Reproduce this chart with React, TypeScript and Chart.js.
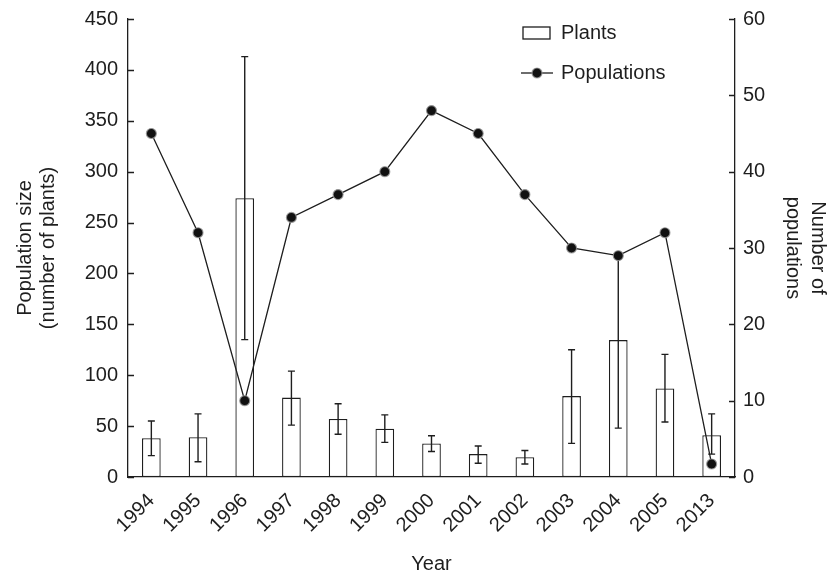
import React, { useEffect, useRef } from 'react';
import { Chart, registerables } from 'chart.js';

Chart.register(...registerables);

const years = ['1994', '1995', '1996', '1997', '1998', '1999', '2000', '2001', '2002', '2003', '2004', '2005', '2013'];
const plants = [38, 39, 274, 78, 57, 47.5, 33, 22.5, 19.5, 79.5, 134.5, 87, 41];
const plantsErrHigh = [55, 62, 413, 104, 72, 61, 40.5, 30.5, 26, 125, 217, 120.5, 62];
const plantsErrLow = [21, 15, 135, 51, 42, 34, 25, 13.5, 12.8, 33, 48, 54, 22.5];
const populations = [45, 32, 10, 34, 37, 40, 48, 45, 37, 30, 29, 32, 1.7];
const leftTicks = { min: 0, max: 450, step: 50 };
const rightTicks = { min: 0, max: 60, step: 10 };

const FONT = '"Liberation Sans", Arial, Helvetica, sans-serif';
const INK = '#1e1e1e';
const FS = 20;

const errorBarPlugin = {
  id: 'errorBars',
  afterDatasetDraw(chart: any, args: any) {
    if (args.index !== 0) return;
    const { ctx } = chart;
    const x = chart.scales.x;
    const y = chart.scales.y;
    ctx.save();
    ctx.strokeStyle = INK;
    ctx.lineWidth = 1.4;
    for (let i = 0; i < years.length; i++) {
      const cx = x.getPixelForValue(i);
      const yt = y.getPixelForValue(plantsErrHigh[i]);
      const yb = y.getPixelForValue(plantsErrLow[i]);
      const cap = 3.5;
      ctx.beginPath();
      ctx.moveTo(cx, yt);
      ctx.lineTo(cx, yb);
      ctx.moveTo(cx - cap, yt);
      ctx.lineTo(cx + cap, yt);
      ctx.moveTo(cx - cap, yb);
      ctx.lineTo(cx + cap, yb);
      ctx.stroke();
    }
    ctx.restore();
  },
};

const innerTicksPlugin = {
  id: 'innerTicks',
  afterDraw(chart: any) {
    const { ctx } = chart;
    const ly = chart.scales.y;
    const ry = chart.scales.y1;
    ctx.save();
    ctx.strokeStyle = INK;
    ctx.lineWidth = 1.3;
    ctx.beginPath();
    for (const t of ly.ticks) {
      const py = Math.round(ly.getPixelForValue(t.value)) + 0.5;
      ctx.moveTo(ly.right, py);
      ctx.lineTo(ly.right + 6, py);
    }
    for (const t of ry.ticks) {
      const py = Math.round(ry.getPixelForValue(t.value)) + 0.5;
      ctx.moveTo(ry.left, py);
      ctx.lineTo(ry.left - 6, py);
    }
    ctx.stroke();
    ctx.restore();
  },
};

const decorPlugin = {
  id: 'decor',
  afterDraw(chart: any) {
    const { ctx, chartArea } = chart;
    const midY = (chartArea.top + chartArea.bottom) / 2;
    ctx.save();
    ctx.fillStyle = INK;
    ctx.font = `${FS}px ${FONT}`;
    ctx.textAlign = 'center';
    ctx.textBaseline = 'middle';
    // left axis title
    ctx.save();
    ctx.translate(25, midY);
    ctx.rotate(-Math.PI / 2);
    ctx.fillText('Population size', 0, 0);
    ctx.fillText('(number of plants)', 0, 23);
    ctx.restore();
    // right axis title
    ctx.save();
    ctx.translate(818, midY);
    ctx.rotate(Math.PI / 2);
    ctx.fillText('Number of', 0, 0);
    ctx.fillText('populations', 0, 25);
    ctx.restore();
    // legend
    ctx.textAlign = 'left';
    ctx.strokeStyle = INK;
    ctx.lineWidth = 1.3;
    ctx.fillStyle = '#fff';
    ctx.fillRect(523, 27, 27, 12);
    ctx.strokeRect(523, 27, 27, 12);
    ctx.fillStyle = INK;
    ctx.fillText('Plants', 561, 33);
    ctx.beginPath();
    ctx.moveTo(521, 73);
    ctx.lineTo(553, 73);
    ctx.stroke();
    ctx.beginPath();
    ctx.arc(537, 73, 5, 0, Math.PI * 2);
    ctx.fillStyle = '#111';
    ctx.fill();
    ctx.strokeStyle = 'rgba(150,150,150,0.8)';
    ctx.lineWidth = 1.2;
    ctx.stroke();
    ctx.fillStyle = INK;
    ctx.fillText('Populations', 561, 73);
    ctx.restore();
  },
};

export default function App() {
  const ref = useRef<HTMLCanvasElement | null>(null);
  useEffect(() => {
    if (!ref.current) return;
    const chart = new Chart(ref.current, {
      type: 'bar',
      data: {
        labels: years,
        datasets: [
          {
            type: 'bar',
            label: 'Plants',
            data: plants,
            yAxisID: 'y',
            backgroundColor: '#fff',
            borderColor: INK,
            borderWidth: 1.3,
            borderSkipped: false,
            barPercentage: 0.4,
            categoryPercentage: 1,
            order: 1,
          },
          {
            type: 'line',
            label: 'Populations',
            data: populations,
            yAxisID: 'y1',
            borderColor: INK,
            borderWidth: 1.3,
            pointRadius: 5,
            pointBackgroundColor: '#111',
            pointBorderColor: 'rgba(150,150,150,0.8)',
            pointBorderWidth: 1.2,
            tension: 0,
            order: 0,
          },
        ],
      },
      options: {
        responsive: false,
        animation: false,
        layout: { padding: { top: 19, left: 0, right: 0, bottom: 0 } },
        plugins: { legend: { display: false }, tooltip: { enabled: false } },
        scales: {
          x: {
            offset: true,
            grid: { display: false },
            border: { display: true, color: INK, width: 1.3 },
            ticks: {
              color: INK,
              font: { family: FONT, size: FS },
              maxRotation: 45,
              minRotation: 45,
              padding: 4,
            },
            title: {
              display: true,
              text: 'Year',
              color: INK,
              font: { family: FONT, size: FS },
              padding: { top: 0, bottom: 2 },
            },
            afterFit: (s: any) => {
              s.height = 101;
            },
          },
          y: {
            position: 'left',
            min: leftTicks.min,
            max: leftTicks.max,
            grid: { display: false, drawTicks: false },
            border: { display: true, color: INK, width: 1.3 },
            ticks: {
              stepSize: leftTicks.step,
              color: INK,
              font: { family: FONT, size: FS, lineHeight: 0.9 },
              padding: 10,
            },
            afterFit: (s: any) => {
              s.width = 128;
            },
          },
          y1: {
            position: 'right',
            min: rightTicks.min,
            max: rightTicks.max,
            grid: { display: false, drawTicks: false },
            border: { display: true, color: INK, width: 1.3 },
            ticks: {
              stepSize: rightTicks.step,
              color: INK,
              font: { family: FONT, size: FS, lineHeight: 0.9 },
              padding: 8,
            },
            afterFit: (s: any) => {
              s.width = 92;
            },
          },
        },
      },
      plugins: [errorBarPlugin, innerTicksPlugin, decorPlugin],
    });
    return () => chart.destroy();
  }, []);
  return (
    <div style={{ position: 'absolute', left: 0, top: 0, width: 827, height: 578, background: '#fff' }}>
      <canvas ref={ref} width={827} height={578} />
    </div>
  );
}
